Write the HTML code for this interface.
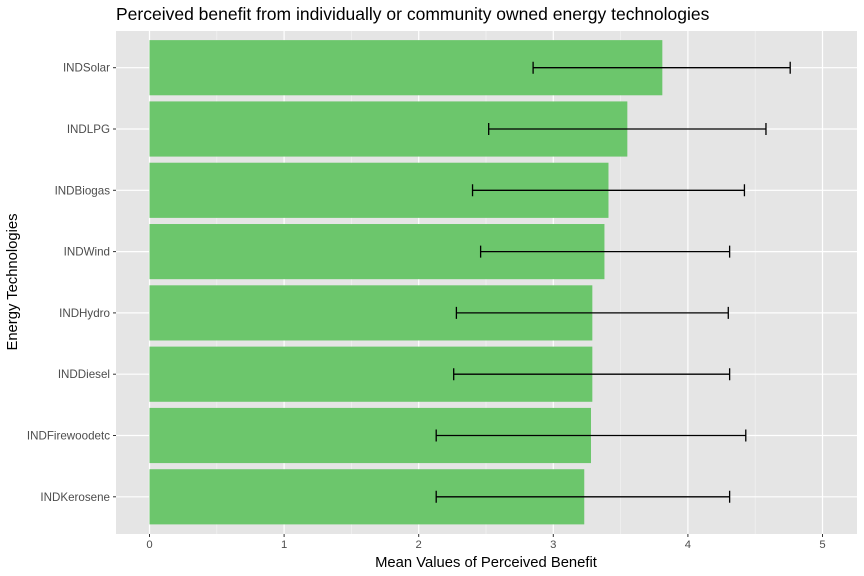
<!DOCTYPE html>
<html><head><meta charset="utf-8"><style>
body{margin:0;background:#fff;}
svg{display:block;font-family:"Liberation Sans",Arial,sans-serif;}
</style></head><body>
<svg id="chart" width="864" height="576">
<text x="116" y="20" font-size="17.5" fill="#000">Perceived benefit from individually or community owned energy technologies</text>
<rect x="116" y="31" width="741" height="503" fill="#e5e5e5"/>
<g id="grid"></g><g id="bars"></g><g id="errs"></g><g id="axes"></g>
<text x="486" y="567" font-size="14.8" text-anchor="middle">Mean Values of Perceived Benefit</text>
<text transform="translate(17,282) rotate(-90)" font-size="14.8" text-anchor="middle">Energy Technologies</text>
</svg>
<script>
const categories=["INDSolar","INDLPG","INDBiogas","INDWind","INDHydro","INDDiesel","INDFirewoodetc","INDKerosene"];
const means=[3.81,3.55,3.41,3.38,3.29,3.29,3.28,3.23];
const lower=[2.85,2.52,2.40,2.46,2.28,2.26,2.13,2.13];
const upper=[4.76,4.58,4.42,4.31,4.30,4.31,4.43,4.31];
const xTicks=[0,1,2,3,4,5];
const NS="http://www.w3.org/2000/svg";
const x0=149.5,k=134.6,y0=67.7,band=61.3;
const X=v=>x0+v*k, Y=i=>y0+i*band;
function mk(t,a,p){const e=document.createElementNS(NS,t);for(const n in a)e.setAttribute(n,a[n]);document.getElementById(p).appendChild(e);return e;}
for(let i=0;i<xTicks.length-1;i++){
  const m=mk('line',{x1:X(xTicks[i]+0.5),x2:X(xTicks[i]+0.5),y1:31,y2:534,stroke:'#f2f2f2','stroke-width':0.7},'grid');
  
  
}
xTicks.forEach(v=>{
  const g=mk('line',{x1:X(v),x2:X(v),y1:31,y2:534,stroke:'#fff','stroke-width':1.2},'grid');
  
  
  const t=mk('line',{x1:X(v),x2:X(v),y1:534,y2:537,stroke:'#333','stroke-width':1},'axes');
  
  
  const l=mk('text',{x:X(v),y:548,'font-size':11.3,fill:'#4d4d4d','text-anchor':'middle'},'axes');
  l.textContent=v;
  
  
});
categories.forEach((c,i)=>{
  const y=Y(i);
  const g=mk('line',{x1:116,x2:857,y1:y,y2:y,stroke:'#fff','stroke-width':1.2},'grid');
  
  
  const b=mk('rect',{x:X(0),y:y-band*0.45,width:X(means[i])-X(0),height:band*0.9,fill:'#6cc66c'},'bars');
  
  
  const e=mk('path',{d:`M${X(lower[i])},${y-6}V${y+6}M${X(lower[i])},${y}H${X(upper[i])}M${X(upper[i])},${y-6}V${y+6}`,stroke:'#000','stroke-width':1.3,fill:'none'},'errs');
  
  
  const t=mk('line',{x1:113,x2:116,y1:y,y2:y,stroke:'#333','stroke-width':1},'axes');
  
  
  const l=mk('text',{x:110,y:y+4,'font-size':11.6,fill:'#4d4d4d','text-anchor':'end'},'axes');
  l.textContent=c;
  
  
});
</script>
</body></html>
